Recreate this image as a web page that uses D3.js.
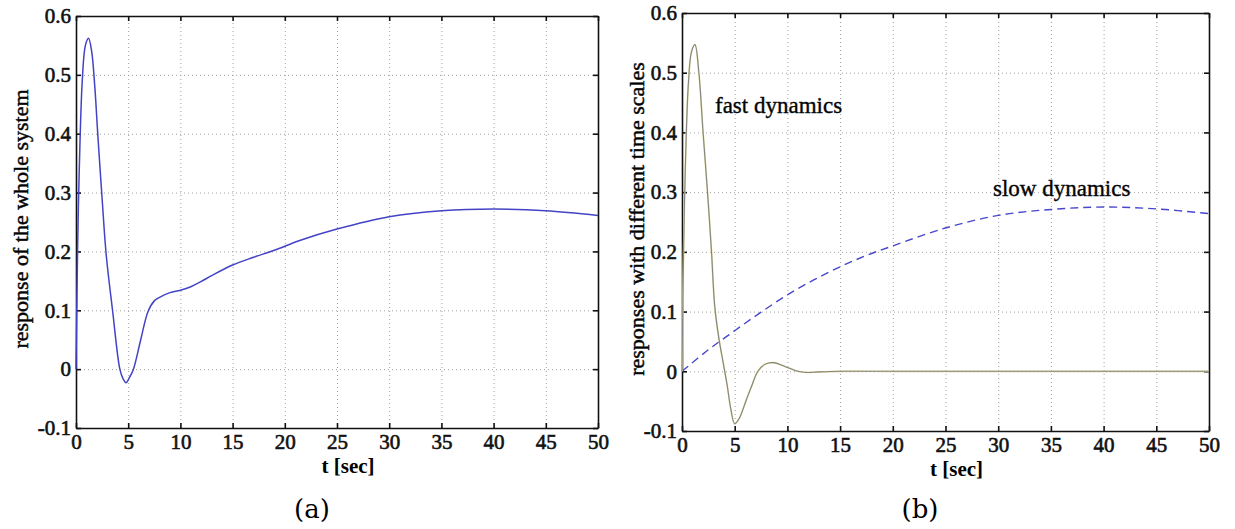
<!DOCTYPE html>
<html>
<head>
<meta charset="utf-8">
<script src="https://cdn.jsdelivr.net/npm/d3@7"></script>
<style>
  body { margin: 0; background: #fff; }
  svg { display: block; font-family: "Liberation Serif", "Times New Roman", serif; }
  .grid line { stroke: #a0a0a0; stroke-width: 1; stroke-dasharray: 1,3; }
  .grid .domain { display: none; }
  .axis .domain, .axis line { stroke: #111; stroke-width: 1.6; }
</style>
</head>
<body>
<svg id="fig" width="1235" height="529"></svg>
<script>
// axis ticks
const xTicks = [0, 5, 10, 15, 20, 25, 30, 35, 40, 45, 50];
const yTicks = [-0.1, 0, 0.1, 0.2, 0.3, 0.4, 0.5, 0.6];

// (a) response of the whole system
const wholeT = [0, 0.15, 0.3, 0.6, 0.9, 1.2, 1.5, 1.8, 2.1, 2.5, 2.9, 3.5, 4.2, 4.5, 4.8, 5.1, 5.5, 6.2, 6.9, 7.5, 8.0, 9.0, 10.0, 11.0, 12.0, 13.0, 15.0, 17.0, 19.0, 21.5, 25, 30, 35, 40, 45, 50];
const wholeV = [0, 0.2, 0.33, 0.49, 0.55, 0.562, 0.54, 0.48, 0.395, 0.29, 0.193, 0.1, 0.0, -0.016, -0.023, -0.015, 0.0, 0.05, 0.098, 0.116, 0.122, 0.13, 0.134, 0.14, 0.149, 0.159, 0.177, 0.19, 0.202, 0.219, 0.238, 0.259, 0.269, 0.272, 0.269, 0.261];

// (b) fast dynamics
const fastT = [0, 0.15, 0.3, 0.6, 0.9, 1.23, 1.6, 2.0, 2.4, 2.8, 3.1, 3.5, 3.9, 4.3, 4.6, 5.0, 5.4, 6.1, 6.6, 7.2, 7.9, 8.7, 9.5, 10.2, 11.0, 11.8, 13.0, 15, 20, 30, 40, 50];
const fastV = [0, 0.2, 0.33, 0.48, 0.535, 0.547, 0.5, 0.4, 0.305, 0.2, 0.11, 0.055, 0.015, -0.025, -0.06, -0.088, -0.08, -0.048, -0.025, 0.0, 0.012, 0.0145, 0.01, 0.005, 0.0, -0.002, -0.001, 0, 0, 0, 0, 0];

// (b) slow dynamics
const slowT = [0, 2.5, 5, 7.5, 10, 12.5, 15, 17.5, 20, 25, 30, 35, 40, 45, 50];
const slowV = [0, 0.036, 0.068, 0.099, 0.128, 0.153, 0.175, 0.194, 0.21, 0.24, 0.261, 0.271, 0.275, 0.272, 0.264];

const svg = d3.select("#fig");
const fmt = d => String(+d.toFixed(1));

// serif tick labels, set as inline style so d3's axis defaults can't win
const styleTicks = sel => sel.selectAll(".tick text")
    .style("font-family", "'Liberation Serif', 'Times New Roman', serif")
    .style("font-size", "21px")
    .style("fill", "#111")
    .style("stroke", "#111")
    .style("stroke-width", "0.6px");

function drawPanel(box, yLabel, caption) {
    const x = d3.scaleLinear().domain([0, 50]).range([box.left, box.right]);
    const y = d3.scaleLinear().domain([-0.1, 0.6]).range([box.bottom, box.top]);
    const g = svg.append("g");

    // dotted grid
    g.append("g").attr("class", "grid")
        .attr("transform", `translate(0,${ box.bottom })`)
        .call(d3.axisBottom(x).tickValues(xTicks.slice(1, -1)).tickSize(-(box.bottom - box.top)).tickFormat(""));
    g.append("g").attr("class", "grid")
        .attr("transform", `translate(${ box.left },0)`)
        .call(d3.axisLeft(y).tickValues(yTicks.slice(1, -1)).tickSize(-(box.right - box.left)).tickFormat(""));

    // box with inward ticks on all sides
    const bottomAxis = g.append("g").attr("class", "axis")
        .attr("transform", `translate(0,${ box.bottom })`)
        .call(d3.axisBottom(x).tickValues(xTicks).tickSizeInner(-5).tickSizeOuter(0).tickPadding(6).tickFormat(fmt));
    styleTicks(bottomAxis);
    g.append("g").attr("class", "axis")
        .attr("transform", `translate(0,${ box.top })`)
        .call(d3.axisTop(x).tickValues(xTicks).tickSizeInner(-5).tickSizeOuter(0).tickFormat(""));
    const leftAxis = g.append("g").attr("class", "axis")
        .attr("transform", `translate(${ box.left },0)`)
        .call(d3.axisLeft(y).tickValues(yTicks).tickSizeInner(-5).tickSizeOuter(0).tickPadding(5).tickFormat(fmt));
    styleTicks(leftAxis);
    g.append("g").attr("class", "axis")
        .attr("transform", `translate(${ box.right },0)`)
        .call(d3.axisRight(y).tickValues(yTicks).tickSizeInner(-5).tickSizeOuter(0).tickFormat(""));

    // axis titles
    g.append("text")
        .attr("x", (box.left + box.right) / 2 + 11)
        .attr("y", box.bottom + 45)
        .attr("text-anchor", "middle")
        .attr("font-size", 21).attr("font-weight", "bold")
        .text("t [sec]");
    g.append("text")
        .attr("transform", `translate(${ box.ylabelX },${ (box.top + box.bottom) / 2 - 3 }) rotate(-90)`)
        .attr("text-anchor", "middle")
        .attr("font-size", 22).attr("stroke", "#111").attr("stroke-width", 0.5)
        .text(yLabel);
    g.append("text")
        .attr("x", box.captionX).attr("y", 518)
        .attr("text-anchor", "middle")
        .attr("font-size", 26)
        .attr("font-family", "'DejaVu Serif', serif").attr("font-weight", 300)
        .text(caption);

    return { x, y, g };
}

const lineOf = (p, ts, vs) => d3.line()
    .x(i => p.x(ts[i]))
    .y(i => p.y(vs[i]))
    .curve(d3.curveCatmullRom.alpha(0.5))(d3.range(ts.length));

// panel (a)
const pa = drawPanel({ left: 76, right: 598, top: 16, bottom: 428, ylabelX: 28, captionX: 312 },
    "response of the whole system", "(a)");
pa.g.append("path")
    .attr("d", lineOf(pa, wholeT, wholeV))
    .attr("fill", "none").attr("stroke", "#4343c6").attr("stroke-width", 1.5);

// panel (b)
const pb = drawPanel({ left: 682, right: 1209, top: 13, bottom: 431, ylabelX: 644, captionX: 920 },
    "responses with different time scales", "(b)");
pb.g.append("path")
    .attr("d", lineOf(pb, slowT, slowV))
    .attr("fill", "none").attr("stroke", "#4747cc").attr("stroke-width", 1.4)
    .attr("stroke-dasharray", "8,5");
pb.g.append("path")
    .attr("d", lineOf(pb, fastT, fastV))
    .attr("fill", "none").attr("stroke", "#e2dea0").attr("stroke-width", 1.7);
pb.g.append("path")
    .attr("d", lineOf(pb, fastT, fastV))
    .attr("fill", "none").attr("stroke", "#85857f").attr("stroke-width", 1.1);

pb.g.append("text")
    .attr("x", 715).attr("y", 113)
    .attr("font-size", 23).attr("stroke", "#111").attr("stroke-width", 0.4)
    .text("fast dynamics");
pb.g.append("text")
    .attr("x", 993).attr("y", 196)
    .attr("font-size", 23).attr("stroke", "#111").attr("stroke-width", 0.4)
    .text("slow dynamics");
</script>
</body>
</html>
